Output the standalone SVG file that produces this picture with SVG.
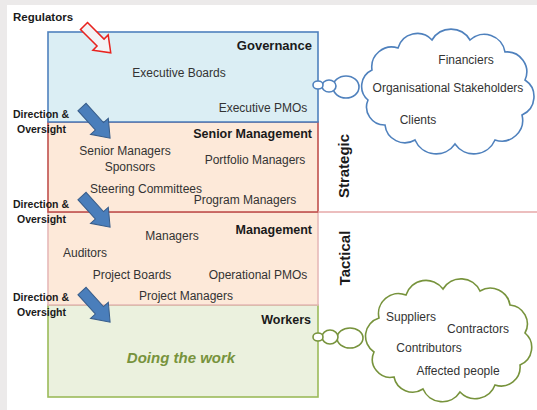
<svg xmlns="http://www.w3.org/2000/svg" width="537" height="410" viewBox="0 0 537 410">
<style>
text{font-family:"Liberation Sans",Arial,sans-serif;fill:#333333;font-size:12px}
.t{font-weight:bold;fill:#1a1a1a;font-size:12.5px}
.d{font-weight:bold;fill:#1a1a1a;font-size:10.5px}
.m{text-anchor:middle}
.e{text-anchor:end}
.box{stroke-width:1.6}
.blue{fill:#4a7ebb;stroke:#385d8a;stroke-width:1}
</style>
<defs>
<path id="arr" d="M0,-5.5 L26,-5.5 L26,-12 L42,0 L26,12 L26,5.5 L0,5.5 Z"/>
</defs>
<rect x="0" y="0" width="537" height="410" fill="#ffffff"/>
<rect x="0" y="0" width="537" height="5" fill="#eceaea"/>
<rect x="0" y="0" width="7" height="410" fill="#eceaea"/>

<g id="workers">
<rect class="box" x="48" y="305" width="270" height="92" fill="#ebf1de" stroke="#9bbb59"/>
<text class="t e" x="311" y="324">Workers</text>
<text class="m" x="181" y="363" style="font-size:15px;font-weight:bold;font-style:italic;fill:#77933c">Doing the work</text>
</g>
<g id="management">
<rect class="box" x="48" y="212" width="270" height="93" fill="#fde9d9" stroke="#e6b9b8"/>
<text class="t e" x="312" y="234">Management</text>
<text class="m" x="172" y="240">Managers</text>
<text class="m" x="85" y="257">Auditors</text>
<text class="m" x="132" y="279">Project Boards</text>
<text class="m" x="258" y="279">Operational PMOs</text>
<text class="m" x="186" y="300">Project Managers</text>
</g>
<g id="senior">
<rect class="box" x="48" y="122" width="270" height="90" fill="#fde9d9" stroke="#c0504d"/>
<text class="t e" x="312" y="138">Senior Management</text>
<text class="m" x="125" y="155">Senior Managers</text>
<text class="m" x="130" y="171">Sponsors</text>
<text class="m" x="255" y="164">Portfolio Managers</text>
<text class="m" x="146" y="193">Steering Committees</text>
<text class="m" x="245" y="204">Program Managers</text>
</g>
<g id="governance">
<rect class="box" x="48" y="32" width="270" height="90" fill="#dbeef4" stroke="#4f81bd"/>
<text class="t e" x="312" y="50" style="font-size:13px">Governance</text>
<text class="m" x="179" y="77">Executive Boards</text>
<text class="m" x="263" y="112">Executive PMOs</text>
</g>

<g id="connectors">
<line x1="318" y1="212" x2="537" y2="212" stroke="#e6a8a8" stroke-width="1.5"/>
<use href="#arr" transform="translate(84,26) rotate(45) scale(0.9)" fill="#f3f3f5" stroke="#e8231f" stroke-width="1.7"/>
<use href="#arr" class="blue" transform="translate(82,107) rotate(48)"/>
<use href="#arr" class="blue" transform="translate(82,196) rotate(48)"/>
<use href="#arr" class="blue" transform="translate(82,291) rotate(48)"/>
</g>

<g id="labels">
<text class="d" x="13" y="21" style="font-size:11.5px">Regulators</text>
<text class="d" x="13" y="118">Direction &amp;</text>
<text class="d" x="17" y="133">Oversight</text>
<text class="d" x="13" y="208">Direction &amp;</text>
<text class="d" x="17" y="223">Oversight</text>
<text class="d" x="13" y="301">Direction &amp;</text>
<text class="d" x="17" y="316">Oversight</text>
<text class="t m" transform="translate(349,166) rotate(-90)" style="font-size:15px">Strategic</text>
<text class="t m" transform="translate(350,258) rotate(-90)" style="font-size:15px">Tactical</text>
</g>

<g id="cloud-stakeholders">
<path d="M368,100 A18,18 0 0 1 372,70 A20,20 0 0 1 398,48 A20,20 0 0 1 432,40 A22,22 0 0 1 470,40 A21,21 0 0 1 505,52 A20,20 0 0 1 525,80 A20,20 0 0 1 522,115 A21,21 0 0 1 495,140 A23,23 0 0 1 455,144 A23,23 0 0 1 415,140 A20,20 0 0 1 385,125 A18,18 0 0 1 368,100 Z" fill="#ffffff" stroke="#4f81bd" stroke-width="1.6"/>
<ellipse cx="346" cy="87" rx="13" ry="11" fill="#ffffff" stroke="#4f81bd" stroke-width="1.6"/>
<ellipse cx="329" cy="86" rx="7" ry="6" fill="#ffffff" stroke="#4f81bd" stroke-width="1.6"/>
<ellipse cx="318" cy="85" rx="5" ry="4" fill="#ffffff" stroke="#4f81bd" stroke-width="1.6"/>
<text class="m" x="466" y="64">Financiers</text>
<text class="m" x="448" y="92">Organisational Stakeholders</text>
<text class="m" x="418" y="124">Clients</text>
</g>

<g id="cloud-workers">
<path d="M374,352 A19,19 0 0 1 379,318 A20,20 0 0 1 406,295 A21,21 0 0 1 443,289 A21,21 0 0 1 480,291 A20,20 0 0 1 510,305 A19,19 0 0 1 525,333 A19,19 0 0 1 520,365 A19,19 0 0 1 495,385 A21,21 0 0 1 460,392 A21,21 0 0 1 423,389 A19,19 0 0 1 394,377 A18,18 0 0 1 374,352 Z" fill="#ffffff" stroke="#77933c" stroke-width="1.6"/>
<ellipse cx="350" cy="338" rx="13" ry="10" fill="#ffffff" stroke="#77933c" stroke-width="1.6"/>
<ellipse cx="330" cy="337" rx="8" ry="7" fill="#ffffff" stroke="#77933c" stroke-width="1.6"/>
<ellipse cx="318" cy="337" rx="5" ry="4" fill="#ffffff" stroke="#77933c" stroke-width="1.6"/>
<text class="m" x="411" y="321">Suppliers</text>
<text class="m" x="478" y="333">Contractors</text>
<text class="m" x="429" y="352">Contributors</text>
<text class="m" x="458" y="375">Affected people</text>
</g>
</svg>
